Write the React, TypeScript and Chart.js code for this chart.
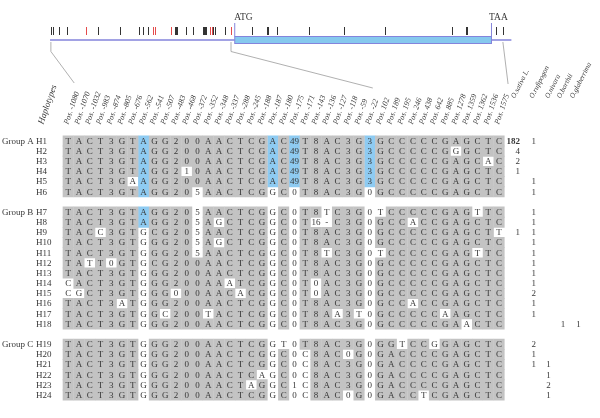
import { useEffect, useRef } from "react";
import { Chart, registerables } from "chart.js";

Chart.register(...registerables);

// ---------------- DATA ----------------
const positions = [
  -1080, -1070, -1032, -983, -874, -805, -676, -562, -541, -507, -483, -468, -372, -352, -348, -337, -288,
  -245, -188, -187, -180, -175, -171, -143, -136, -127, -118, -59, -22, 102, 189, 195, 246, 438, 642, 885,
  1278, 1359, 1362, 1536, 1575,
];
const positionLabels = positions.map((p) => `Pos. ${p}`);

const groupNames = ["Group A", "Group B", "Group C"];
const groupSizes = [6, 12, 6];
const haplotypes = [
  "H1", "H2", "H3", "H4", "H5", "H6", "H7", "H8", "H9", "H10", "H11", "H12", "H13", "H14", "H15", "H16",
  "H17", "H18", "H19", "H20", "H21", "H22", "H23", "H24",
];

const sequences = [
  "T A C T 3 G T A G G 2 0 0 A A C T C G A C 49 T 8 A C 3 G 3 G C C C C C G A G C T C",
  "T A C T 3 G T A G G 2 0 0 A A C T C G A C 49 T 8 A C 3 G 3 G C C C C C G G G C T C",
  "T A C T 3 G T A G G 2 0 0 A A C T C G A C 49 T 8 A C 3 G 3 G C C C C C G A G C A C",
  "T A C T 3 G T A G G 2 1 0 A A C T C G A C 49 T 8 A C 3 G 3 G C C C C C G A G C T C",
  "T A C T 3 G A A G G 2 0 0 A A C T C G A C 49 T 8 A C 3 G 3 G C C C C C G A G C T C",
  "T A C T 3 G T A G G 2 0 5 A A C T C G G C 0 T 8 A C 3 G 0 G C C C C C G A G C T C",
  "T A C T 3 G T A G G 2 0 5 A A C T C G G C 0 T 8 T C 3 G 0 T C C C C C G A G T T C",
  "T A C T 3 G T A G G 2 0 5 A G C T C G G C 0 T 16 - C 3 G 0 G C C A C C G A G C T C",
  "T A C C 3 G T G C G 2 0 5 A A C T C G G C 0 T 8 A C 3 G 0 G C C C C C G A G C T T",
  "T A C T 3 G T G G G 2 0 5 A G C T C G G C 0 T 8 A C 3 G 0 G C C C C C G A G C T C",
  "T A C T 3 G T G G G 2 0 5 A A C T C G G C 0 T 8 T C 3 G 0 T C C C C C G A G T T C",
  "T A T T 0 G T G C G 2 0 0 A A C T C G G C 0 T 8 A C 3 G 0 G C C C C C G A G C T C",
  "T A C T 3 G T G G G 2 0 0 A A C T C G G C 0 T 8 A C 3 G 0 G C C C C C G A G C T C",
  "C A C T 3 G T G G G 2 0 0 A A A T C G G C 0 T 0 A C 3 G 0 G C C C C C G A G C T C",
  "C G C T 3 G T G G G 0 0 0 A A C A C G G C 0 T 0 A C 3 G 0 G C C C C C G A G C T C",
  "T A C T 3 A T G G G 2 0 0 A A C T C G G C 0 T 8 A C 3 G 0 G C C A C C G A G C T C",
  "T A C T 3 G T G G C 2 0 0 T A C T C G G C 0 T 8 A A 3 T 0 G C C C C C A A G C T C",
  "T A C T 3 G T G G G 2 0 0 A A C T C G G C 0 T 8 A C 3 G 0 G C C C C C G A A C T C",
  "T A C T 3 G T G G G 2 0 0 A A C T C G G T 0 T 8 A C 3 G 0 G G T C C G G A G C T C",
  "T A C T 3 G T G G G 2 0 0 A A C T C G G C 0 C 8 A C 0 G 0 G A C C C C G A G C T C",
  "T A C T 3 G T G G G 2 0 0 A A C T C G G C 0 C 8 A C 3 G 0 G A C C C C G A G C T C",
  "T A C T 3 G T G G G 2 0 0 A A C T C A G C 0 C 8 A C 3 G 0 G A C C C C G A G C T C",
  "T A C T 3 G T G G G 2 0 0 A A C T A G G C 1 C 8 A C 3 G 0 G A C C C C G A G C T C",
  "T A C T 3 G T G G G 2 0 0 A A C T C G G C 0 C 8 A C 0 G 0 G A C C T C G A G C T C",
];

// cells that differ (drawn unshaded): haplotype -> column indices
const variantCells: [string, number[]][] = [
  ["H2", [36]], ["H3", [39]], ["H4", [11]], ["H5", [6]], ["H6", [12]],
  ["H7", [12, 24, 29, 38]], ["H8", [12, 14, 23, 24, 32]], ["H9", [3, 12, 40]], ["H10", [12, 14]],
  ["H11", [12, 24, 29, 38]], ["H12", [2, 4]], ["H14", [0, 15, 23]], ["H15", [0, 1, 10, 16, 23]],
  ["H16", [5, 32]], ["H17", [9, 13, 25, 27, 35]], ["H18", [37]], ["H19", [20, 31, 34]],
  ["H20", [22, 26]], ["H21", [22]], ["H22", [18, 22]], ["H23", [17, 22]], ["H24", [22, 26, 33]],
];

// highlighted sites and the haplotypes carrying the highlighted allele
const highlightSites = [-562, -187, -175, -22];
const highlightHaplotypes = [
  ["H1", "H2", "H3", "H4", "H5", "H6", "H7", "H8"],
  ["H1", "H2", "H3", "H4", "H5"],
  ["H1", "H2", "H3", "H4", "H5"],
  ["H1", "H2", "H3", "H4", "H5"],
];

const speciesNames = ["O.sativa L.", "O.rufipogon", "O.nivara", "O.barthii", "O.glaberrima"];
const countsSativa = [182, 4, 2, 1, 0, 0, 0, 0, 1, 0, 0, 0, 0, 0, 0, 0, 0, 0, 0, 0, 0, 0, 0, 0];
const countsRufipogon = [1, 0, 0, 0, 1, 1, 1, 1, 1, 1, 1, 1, 1, 1, 2, 1, 1, 0, 2, 1, 1, 0, 0, 0];
const countsNivara = [0, 0, 0, 0, 0, 0, 0, 0, 0, 0, 0, 0, 0, 0, 0, 0, 0, 0, 0, 0, 1, 1, 2, 1];
const countsBarthii = [0, 0, 0, 0, 0, 0, 0, 0, 0, 0, 0, 0, 0, 0, 0, 0, 0, 1, 0, 0, 0, 0, 0, 0];
const countsGlaberrima = [0, 0, 0, 0, 0, 0, 0, 0, 0, 0, 0, 0, 0, 0, 0, 0, 0, 1, 0, 0, 0, 0, 0, 0];
const speciesCounts = [countsSativa, countsRufipogon, countsNivara, countsBarthii, countsGlaberrima];

// gene structure (bp relative to ATG)
const geneRange = [-1085, 1625];
const cdsRange = [0, 1508];
const cdsLabels = ["ATG", "TAA"];
const redSites = [-874, -483, -468, -372, -143, -136, -22];
const zoomedSites = [-1080, -22, 1575];

// ---------------- LAYOUT ----------------
const W = 600;
const H = 418;
const COL_PITCH = 11.06;
const COL0_PX = 62;
const ROW_PITCH = 10.56;
const ROW0_PX = 138.3;
const X_MIN = -COL0_PX / COL_PITCH;
const X_MAX = X_MIN + W / COL_PITCH;
const Y_MIN = -ROW0_PX / ROW_PITCH;
const Y_MAX = Y_MIN + H / ROW_PITCH;
const BP_PX = 0.1748;
const ATG_PX = 233;
const G_MIN = -ATG_PX / BP_PX;
const G_MAX = G_MIN + W / BP_PX;
// count columns on the column scale
const countCols = [41.95, 43.22, 44.58, 45.93, 47.38];
const speciesLabelCols = [41.3, 43.0, 44.45, 45.55, 46.75];

const GRAY = "#c3c3c3";
const BLUE = "#8ecbf2";
const TEXT = "#383838";
const SERIF = '"Liberation Serif", "Times New Roman", serif';

function slotOf(i: number) {
  let acc = 0;
  for (let g = 0; g < groupSizes.length; g++) {
    if (i < acc + groupSizes[g]) return i + g;
    acc += groupSizes[g];
  }
  return i;
}

function buildCells() {
  const variantSet = new Set<string>();
  variantCells.forEach(([h, cols]) => cols.forEach((c) => variantSet.add(h + ":" + c)));
  const gray: { x: number; y: number }[] = [];
  const blue: { x: number; y: number }[] = [];
  haplotypes.forEach((h, i) => {
    const slot = slotOf(i);
    sequences[i].split(" ").forEach((_t, c) => {
      const k = highlightSites.indexOf(positions[c]);
      if (k >= 0) {
        if (highlightHaplotypes[k].includes(h)) blue.push({ x: c, y: slot });
        return;
      }
      if (variantSet.has(h + ":" + c)) return;
      gray.push({ x: c, y: slot });
    });
  });
  return { gray, blue };
}

const diagramPlugin = {
  id: "diagram",
  afterDatasetsDraw(chart: any) {
    const ctx = chart.ctx as CanvasRenderingContext2D;
    const xs = chart.scales.x;
    const xg = chart.scales.xg;
    const gx = (p: number) => xg.getPixelForValue(p);
    const cx = (c: number) => xs.getPixelForValue(c);
    ctx.save();
    // connectors
    ctx.strokeStyle = "#9c9c9c";
    ctx.lineWidth = 0.8;
    const ends = [
      [cx(0) + 6, 83],
      [cx(positions.indexOf(-22)) + 3, 88],
      [cx(positions.length - 1) + 9, 84],
    ];
    zoomedSites.forEach((p, i) => {
      ctx.beginPath();
      ctx.moveTo(gx(p), 42);
      if (i < 2) ctx.lineTo(gx(p), 51.5);
      ctx.lineTo(ends[i][0], ends[i][1]);
      ctx.stroke();
    });
    // gene line
    ctx.strokeStyle = "#8484dc";
    ctx.lineWidth = 1.3;
    ctx.beginPath();
    ctx.moveTo(gx(geneRange[0]), 40);
    ctx.lineTo(gx(cdsRange[0]), 40);
    ctx.moveTo(gx(cdsRange[1]), 40);
    ctx.lineTo(gx(geneRange[1]), 40);
    ctx.stroke();
    // CDS box
    const bx0 = gx(cdsRange[0]);
    const bx1 = gx(cdsRange[1]);
    ctx.fillStyle = "#86c9ee";
    ctx.fillRect(bx0, 36.5, bx1 - bx0, 7);
    ctx.lineWidth = 1;
    ctx.strokeRect(bx0, 36.5, bx1 - bx0, 7);
    ctx.beginPath();
    ctx.moveTo(bx0, 23);
    ctx.lineTo(bx0, 36.5);
    ctx.moveTo(bx1, 23);
    ctx.lineTo(bx1, 43.5);
    ctx.stroke();
    // site ticks
    ctx.lineWidth = 1;
    positions.forEach((p) => {
      ctx.strokeStyle = redSites.includes(p) ? "#e44b4b" : "#333333";
      const x = Math.round(gx(p)) + 0.5;
      ctx.beginPath();
      ctx.moveTo(x, 27);
      ctx.lineTo(x, 35);
      ctx.stroke();
    });
    // ATG / TAA
    ctx.fillStyle = TEXT;
    ctx.font = `9.5px ${SERIF}`;
    ctx.textAlign = "left";
    ctx.textBaseline = "alphabetic";
    ctx.fillText(cdsLabels[0], bx0 - 0.5, 20);
    ctx.fillText(cdsLabels[1], bx1 - 2.5, 20);
    ctx.restore();
  },
};

const textPlugin = {
  id: "texts",
  afterDatasetsDraw(chart: any) {
    const ctx = chart.ctx as CanvasRenderingContext2D;
    const xs = chart.scales.x;
    const ys = chart.scales.y;
    ctx.save();
    ctx.fillStyle = TEXT;
    // cell letters
    ctx.font = `9px ${SERIF}`;
    ctx.textAlign = "center";
    ctx.textBaseline = "middle";
    haplotypes.forEach((_h, i) => {
      const py = ys.getPixelForValue(slotOf(i)) + 0.5;
      sequences[i].split(" ").forEach((t, c) => {
        ctx.fillText(t, xs.getPixelForValue(c), py);
      });
    });
    // counts
    speciesCounts.forEach((arr, s) => {
      arr.forEach((v, i) => {
        if (!v) return;
        const py = ys.getPixelForValue(slotOf(i)) + 0.5;
        ctx.font = v > 100 ? `bold 9px ${SERIF}` : `9px ${SERIF}`;
        ctx.textAlign = s === 0 ? "right" : "center";
        ctx.fillText(String(v), xs.getPixelForValue(countCols[s]), py);
      });
    });
    // row labels
    ctx.font = `9px ${SERIF}`;
    ctx.textAlign = "left";
    let start = 0;
    groupNames.forEach((g, gi) => {
      ctx.fillText(g, 2, ys.getPixelForValue(slotOf(start)) + 0.5);
      start += groupSizes[gi];
    });
    haplotypes.forEach((h, i) => {
      ctx.fillText(h, 36, ys.getPixelForValue(slotOf(i)) + 0.5);
    });
    // rotated headers
    const rot = (label: string, x: number, y: number, deg: number, font: string) => {
      ctx.save();
      ctx.translate(x, y);
      ctx.rotate((-deg * Math.PI) / 180);
      ctx.font = font;
      ctx.textAlign = "left";
      ctx.textBaseline = "middle";
      ctx.fillText(label, 0, 0);
      ctx.restore();
    };
    positionLabels.forEach((l, c) => {
      rot(l, xs.getPixelForValue(c) - 2, 124, 71, `italic 7.8px ${SERIF}`);
    });
    rot("Haplotypes", 41, 124, 71, `italic 9px ${SERIF}`);
    speciesNames.forEach((n, s) => {
      rot(n, xs.getPixelForValue(speciesLabelCols[s]), 98, 63, `italic 7.2px ${SERIF}`);
    });
    ctx.restore();
  },
};

export default function App() {
  const ref = useRef<HTMLCanvasElement | null>(null);
  useEffect(() => {
    if (!ref.current) return;
    const { gray, blue } = buildCells();
    const cellRadius = (COL_PITCH / 2) / Math.SQRT1_2;
    const chart = new Chart(ref.current, {
      type: "scatter",
      data: {
        datasets: [
          {
            label: "shared",
            data: gray,
            pointStyle: "rect",
            pointRadius: cellRadius,
            pointHoverRadius: cellRadius,
            pointBackgroundColor: GRAY,
            pointBorderWidth: 0,
          },
          {
            label: "highlighted",
            data: blue,
            pointStyle: "rect",
            pointRadius: cellRadius,
            pointHoverRadius: cellRadius,
            pointBackgroundColor: BLUE,
            pointBorderWidth: 0,
          },
        ],
      },
      options: {
        responsive: false,
        animation: false,
        events: [],
        layout: { padding: 0 },
        plugins: { legend: { display: false }, tooltip: { enabled: false } },
        scales: {
          x: { type: "linear", min: X_MIN, max: X_MAX, display: false },
          y: { type: "linear", reverse: true, min: Y_MIN, max: Y_MAX, display: false },
          xg: { type: "linear", axis: "x", min: G_MIN, max: G_MAX, display: false },
        },
      } as any,
      plugins: [diagramPlugin, textPlugin],
    });
    return () => chart.destroy();
  }, []);
  return (
    <div style={{ position: "absolute", left: 0, top: 0, width: W, height: H, background: "#fff" }}>
      <canvas ref={ref} width={W} height={H} style={{ display: "block" }} />
    </div>
  );
}
